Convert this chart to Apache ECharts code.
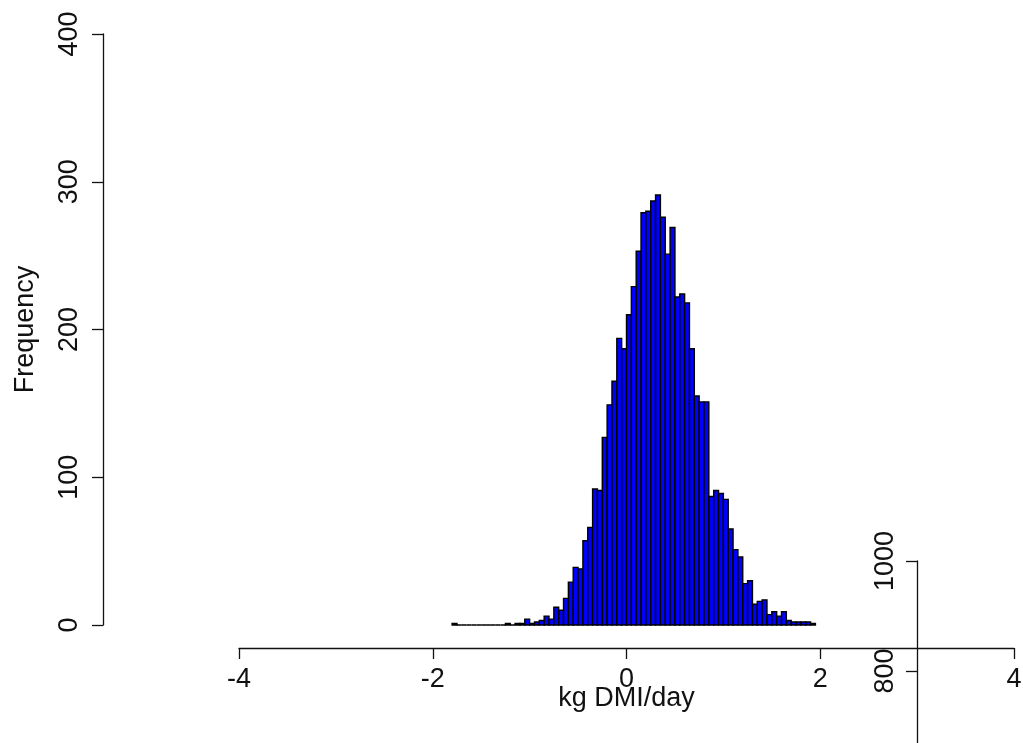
<!DOCTYPE html>
<html>
<head>
<meta charset="utf-8">
<title>kg DMI/day histogram</title>
<script src="https://cdn.jsdelivr.net/npm/echarts@6/dist/echarts.min.js"></script>
<style>
  html, body { margin: 0; padding: 0; background: #fff; }
  #chart { width: 1023px; height: 743px; }
</style>
</head>
<body>
<div id="chart"></div>
<script>
/* ── Data: histogram bins (width 0.05) ── */
var binStarts = [
  -1.80, -1.75, -1.70, -1.65, -1.60, -1.55, -1.50, -1.45, -1.40, -1.35,
  -1.30, -1.25, -1.20, -1.15, -1.10, -1.05, -1.00, -0.95, -0.90, -0.85,
  -0.80, -0.75, -0.70, -0.65, -0.60, -0.55, -0.50, -0.45, -0.40, -0.35,
  -0.30, -0.25, -0.20, -0.15, -0.10, -0.05, 0.00, 0.05, 0.10, 0.15,
  0.20, 0.25, 0.30, 0.35, 0.40, 0.45, 0.50, 0.55, 0.60, 0.65,
  0.70, 0.75, 0.80, 0.85, 0.90, 0.95, 1.00, 1.05, 1.10, 1.15,
  1.20, 1.25, 1.30, 1.35, 1.40, 1.45, 1.50, 1.55, 1.60, 1.65,
  1.70, 1.75, 1.80, 1.85, 1.90
];
var binWidth = 0.05;
var counts = [
  1, 0, 0, 0, 0, 0, 0, 0, 0, 0,
  0, 1, 0, 1, 1, 4, 1, 2, 3, 6,
  4, 12, 10, 18, 29, 39, 38, 57, 66, 92,
  91, 127, 149, 165, 194, 187, 210, 229, 253, 279,
  280, 287, 291, 276, 251, 269, 222, 224, 218, 187,
  155, 151, 151, 87, 91, 89, 85, 65, 51, 46,
  28, 30, 14, 16, 17, 7, 9, 6, 9, 3,
  2, 2, 2, 2, 1
];

var xTicks = { min: -4, max: 4, interval: 2 };
var yTicks = { min: 0, max: 400, interval: 100 };
var y2Ticks = { min: 600, max: 1000, interval: 200 };

var xTitle = 'kg DMI/day';
var yTitle = 'Frequency';

/* ── Build ── */
var FONT = 'Liberation Sans, Arial, Helvetica, sans-serif';
var INK = '#111';
var FS = 27;

var binData = binStarts.map(function(s, i) {
  return [s, +(s + binWidth).toFixed(2), counts[i]];
});

var ch = echarts.init(document.getElementById('chart'), null, { renderer: 'canvas' });

var axisCommon = {
  axisLine: { show: true, onZero: false, lineStyle: { color: INK, width: 1.3 } },
  axisTick: { show: true, inside: false, length: 11, lineStyle: { color: INK, width: 1.3 } },
  splitLine: { show: false },
  axisLabel: { color: INK, fontSize: FS, fontFamily: FONT, formatter: function(v) { return String(v); } }
};

ch.setOption({
  backgroundColor: '#fff',
  animation: false,
  grid: [
    { left: 239, right: 9, top: 34, height: 591, outerBoundsMode: 'none' },
    { left: 917, width: 10, top: 561, height: 220, outerBoundsMode: 'none' }
  ],
  xAxis: [
    Object.assign({}, axisCommon, {
      type: 'value', gridIndex: 0,
      min: xTicks.min, max: xTicks.max, interval: xTicks.interval,
      offset: 23,
      axisLabel: Object.assign({}, axisCommon.axisLabel, { margin: 18 }),
      name: xTitle, nameLocation: 'middle', nameGap: 37, nameMoveOverlap: false,
      nameTextStyle: { color: INK, fontSize: FS, fontFamily: FONT }
    }),
    { type: 'value', gridIndex: 1, show: false, min: 0, max: 1 }
  ],
  yAxis: [
    Object.assign({}, axisCommon, {
      type: 'value', gridIndex: 0,
      min: yTicks.min, max: yTicks.max, interval: yTicks.interval,
      offset: 136,
      axisLabel: Object.assign({}, axisCommon.axisLabel, { rotate: 90, margin: 20 }),
      name: yTitle, nameLocation: 'middle', nameGap: 64, nameRotate: 90, nameMoveOverlap: false,
      nameTextStyle: { color: INK, fontSize: FS, fontFamily: FONT }
    }),
    Object.assign({}, axisCommon, {
      type: 'value', gridIndex: 1, position: 'left',
      min: y2Ticks.min, max: y2Ticks.max, interval: y2Ticks.interval,
      axisLabel: Object.assign({}, axisCommon.axisLabel, { rotate: 90, margin: 18 })
    })
  ],
  series: [{
    type: 'custom',
    xAxisIndex: 0, yAxisIndex: 0,
    data: binData,
    encode: { x: [0, 1], y: 2 },
    clip: false,
    renderItem: function(params, api) {
      var p0 = api.coord([api.value(0), api.value(2)]);
      var p1 = api.coord([api.value(1), 0]);
      return {
        type: 'rect',
        shape: { x: p0[0], y: p0[1], width: p1[0] - p0[0], height: p1[1] - p0[1] },
        style: { fill: '#0000ff', stroke: '#000', lineWidth: 1.4 }
      };
    }
  }]
});
</script>
</body>
</html>
